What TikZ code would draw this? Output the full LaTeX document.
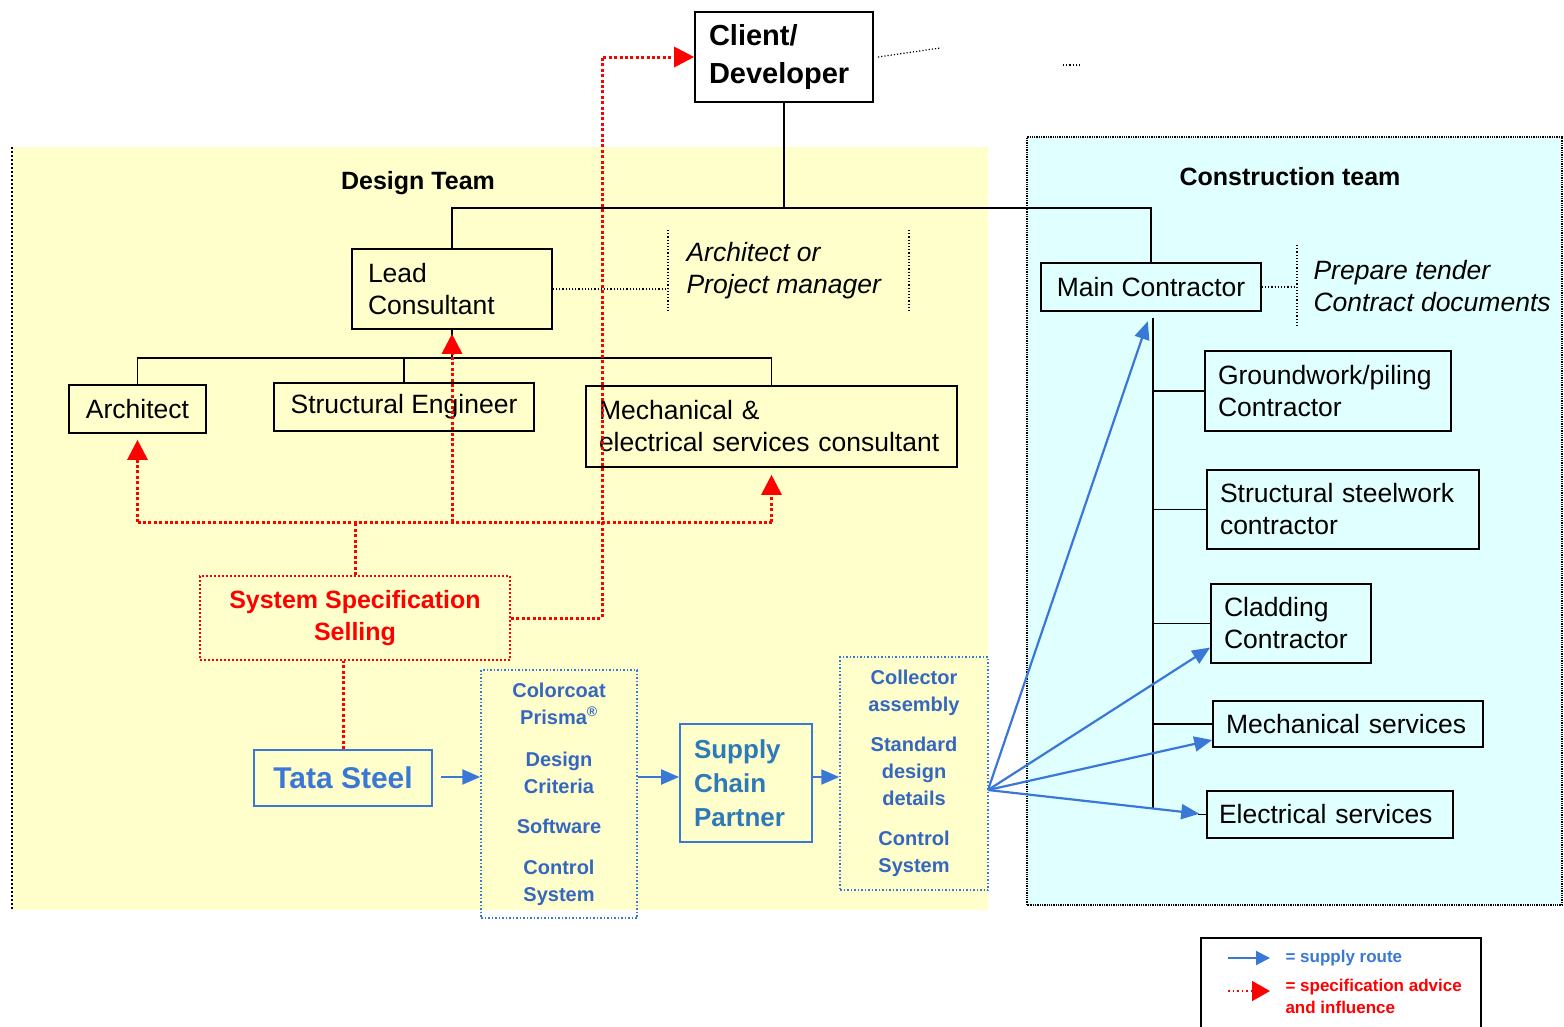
\documentclass[tikz,border=0pt]{standalone}
\usepackage{fontspec}
\setmainfont{Liberation Sans}
\usetikzlibrary{arrows.meta,calc}
\definecolor{ybg}{HTML}{FFFFCC}
\definecolor{cbg}{HTML}{E0FFFF}
\definecolor{bl}{HTML}{3A78D8}
\definecolor{bltext}{HTML}{3567C0}
\definecolor{scpc}{HTML}{2E7AB8}
\definecolor{rd}{HTML}{FF0000}
\newcommand\myfs[2]{\fontsize{#1pt}{#2pt}\selectfont}
\begin{document}
\begin{tikzpicture}[x=1pt,y=-1pt,
  bbox/.style={draw=black, line width=1.6pt, inner sep=0pt, align=center, font=\myfs{26.5}{32}},
  tree/.style={line width=1.6pt},
  reddot/.style={draw=rd, line width=3pt, dash pattern=on 3pt off 2.4pt},
  redarr/.style={reddot, -{Triangle[length=20pt,width=20pt]}},
  bluearr/.style={draw=bl, line width=2.2pt, -{Triangle[length=18pt,width=15pt]}},
  bluedotbox/.style={draw=bl, line width=1.5pt, dash pattern=on 1.5pt off 2pt, inner sep=0pt, align=center, font=\bfseries\myfs{20}{27}, text=bltext},
  annot/.style={draw=black, dotted, line width=1.2pt},
  italtext/.style={anchor=west, align=left, font=\itshape\myfs{26.5}{32}},
  teamlbl/.style={font=\bfseries\myfs{25}{30}}
]
\fill[white] (0,0) rectangle (1564,1026);
\useasboundingbox (0,0) rectangle (1564,1026);

% regions
\fill[ybg] (12,147) rectangle (988,910);
\draw[dash pattern=on 2pt off 2pt, line width=1.3pt] (12,147) -- (12,910);
\fill[cbg] (1027,137) rectangle (1562,905);
\draw[densely dotted, line width=1.3pt] (1027,905) -- (1027,137) -- (1562,137) -- (1562,905) -- cycle;

\node[teamlbl] (dteam) at (418,183) {Design Team};
\node[teamlbl] (cteam) at (1290,177) {Construction team};

% nodes
\node[bbox, minimum width=178pt, minimum height=90pt, text width=150pt, align=left, font=\bfseries\myfs{29}{38}] (client) at (784,57) {Client/\\Developer};
\node[bbox, minimum width=200pt, minimum height=80pt, text width=168pt, align=left] (lead) at (452,289) {Lead\\Consultant};
\node[bbox, minimum width=137pt, minimum height=48pt] (arch) at (137.5,409) {Architect};
\node[bbox, minimum width=260pt, minimum height=48pt] (seng) at (404,407) {Structural Engineer};
\node[bbox, minimum width=371pt, minimum height=81pt, text width=345pt, align=left] (mande) at (771.5,426.5) {Mechanical \&\\electrical services consultant};
\node[bbox, minimum width=220pt, minimum height=48pt] (main) at (1151,287) {Main Contractor};
\node[bbox, minimum width=246pt, minimum height=80pt, text width=220pt, align=left] (ground) at (1328,391) {Groundwork/piling\\Contractor};
\node[bbox, minimum width=272pt, minimum height=79pt, text width=246pt, align=left] (steel) at (1343,509.5) {Structural steelwork\\contractor};
\node[bbox, minimum width=160pt, minimum height=79pt, text width=134pt, align=left] (clad) at (1291,623.5) {Cladding\\Contractor};
\node[bbox, minimum width=270pt, minimum height=46pt, text width=244pt, align=left] (mech) at (1348,724) {Mechanical services};
\node[bbox, minimum width=246pt, minimum height=47pt, text width=222pt, align=left] (elec) at (1330,814.5) {Electrical services};

\node[draw=rd, line width=2pt, dash pattern=on 2pt off 2pt, minimum width=310pt, minimum height=84pt, inner sep=0pt, align=center, text=rd, font=\bfseries\myfs{25}{32}] (sss) at (355,618) {System Specification\\Selling};
\node[draw=bl, line width=1.8pt, minimum width=178pt, minimum height=56pt, inner sep=0pt, text=bl, font=\bfseries\myfs{30}{36}] (tata) at (343,778) {Tata Steel};
\node[bluedotbox, minimum width=156pt, minimum height=248pt] (prod) at (559,794) {Colorcoat\\Prisma\textsuperscript{®}\\[15pt]Design\\Criteria\\[13pt]Software\\[14pt]Control\\System};
\node[draw=bl, line width=1.8pt, minimum width=132pt, minimum height=118pt, inner sep=0pt, text width=104pt, align=left, text=scpc, font=\bfseries\myfs{26}{34}] (scp) at (746,783) {Supply\\Chain\\Partner};
\node[bluedotbox, minimum width=148pt, minimum height=233pt] (coll) at (914,773.5) {Collector\\assembly\\[13pt]Standard\\design\\details\\[13pt]Control\\System};

% annotations
\coordinate (a1) at (668,289);
\draw[annot] (lead.east) -- (a1);
\draw[annot] (668,230) -- (668,312);
\draw[annot] (909,230) -- (909,312);
\node[italtext] (archpm) at (683,271) {Architect or\\Project manager};
\coordinate (a2) at (1297,287);
\draw[annot] (main.east) -- (a2);
\draw[annot] (1297,245) -- (1297,328);
\node[italtext] (prep) at (1310,286) {Prepare tender\\Contract documents};
\draw[annot] (878,57) -- (940,48);
\draw[annot] (1063,65) -- (1082,65);

% tree
\coordinate (jt) at (784,208);
\draw[tree] (client.south) -- (jt);
\draw[tree] (lead.north) |- (jt) -| (main.north);
\coordinate (jl) at (452,358);
\draw[tree] (lead.south) -- (jl);
\draw[tree] (arch.north) |- (jl) -| (mande.north);
\draw[tree] (seng.north) -- (seng.north |- jl);
\coordinate (s0) at (1153,318);
\coordinate (s1) at (1153,808);
\draw[tree] (s0) -- (s1);
\foreach \n in {ground,steel,clad,mech} \draw[tree] (\n.west) -- (\n.west -| s0);
\draw[tree] (elec.west) -- ++(-8,0);

% red influence
\coordinate (rj) at (355,522);
\draw[reddot] (arch.south |- rj) -- (mande.south |- rj);
\draw[redarr, shorten >=6pt] (arch.south |- rj) -- (arch.south);
\draw[redarr, shorten >=4pt] (lead.south |- rj) -- (lead.south);
\draw[redarr, shorten >=7pt] (mande.south |- rj) -- (mande.south);
\draw[reddot] (sss.north) -- (sss.north |- rj);
\draw[redarr] (sss.east) -- ++(91,0) |- (client.west);
\draw[reddot] (tata.north) -- (tata.north |- sss.south);

% blue supply
\coordinate (sy) at (0,777);
\draw[bluearr, shorten <=8pt] (tata.east |- sy) -- (prod.west |- sy);
\draw[bluearr] (prod.east |- sy) -- (scp.west |- sy);
\draw[bluearr] (scp.east |- sy) -- (coll.west |- sy);
\coordinate (fan) at (988,790);
\draw[bluearr, shorten >=10pt] (fan) -- (main.south);
\draw[bluearr] (fan) -- ([yshift=-24pt]clad.west);
\draw[bluearr] (fan) -- ([yshift=-16pt]mech.west);
\draw[bluearr, shorten >=7pt] (fan) -- (elec.west);

% legend
\draw[line width=1.5pt] (1201,1030) -- (1201,938) -- (1481,938) -- (1481,1030);
\coordinate (lb1) at (1228,958);
\coordinate (le1) at (1270,958);
\draw[draw=bl, line width=2pt, -{Triangle[length=14pt,width=14pt]}] (lb1) -- (le1);
\node[anchor=west, text=bl, font=\bfseries\myfs{17}{22}] (leg1) at (1282,958) {= supply route};
\coordinate (lb2) at (1228,991);
\coordinate (le2) at (1270,991);
\draw[draw=rd, line width=1.5pt, dash pattern=on 1.5pt off 3pt, -{Triangle[length=18pt,width=20pt]}] (lb2) -- (le2);
\node[anchor=north west, align=left, text=rd, font=\bfseries\myfs{17}{22}] (leg2) at (1282,976) {= specification advice\\and influence};
\end{tikzpicture}
\end{document}
